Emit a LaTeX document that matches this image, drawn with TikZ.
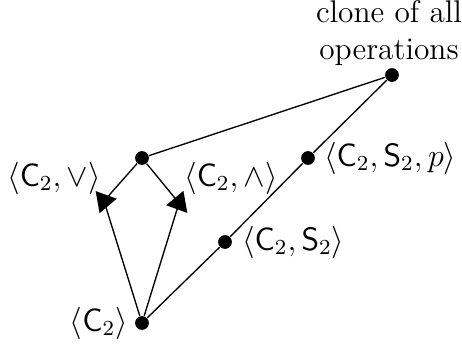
\documentclass[tikz,border=0pt]{standalone}
\usepackage{amsmath,amssymb}
\usetikzlibrary{shapes.geometric,positioning}
\begin{document}
\begin{tikzpicture}[
    x=0.0131cm, y=-0.0131cm,
    dot/.style={circle, fill, inner sep=0pt, minimum size=0.18cm},
    tri/.style={regular polygon, regular polygon sides=3, fill, inner sep=0pt, minimum size=0.34cm, rotate=#1},
    lbl/.style={inner sep=1pt, font=\fontsize{11.7}{13.8}\selectfont},
    edge/.style={line width=0.5pt},
]
\useasboundingbox (0,0) rectangle (462,347);

% --- lattice points --------------------------------------------------
\node[dot] (all)   at (392, 75)  {};
\node[dot] (join)  at (142,158)  {};
\node[dot] (c2s2p) at (308,158)  {};
\node[dot] (c2s2)  at (225,242)  {};
\node[dot] (c2)    at (142,323)  {};
\node[tri=-80] (c2or)  at (104,201) {};
\node[tri=100] (c2and) at (179,203) {};

% --- labels ----------------------------------------------------------
\node[lbl, align=center] (allL) at (389, 33) {clone of all\\operations};
\node[lbl, anchor=west] (c2s2pL) at (321,158) {$\langle \mathsf{C}_2, \mathsf{S}_2, p\rangle$};
\node[lbl, anchor=west] (c2s2L)  at (239,242) {$\langle \mathsf{C}_2, \mathsf{S}_2\rangle$};
\node[lbl, anchor=east] (c2L)    at (131,323) {$\langle \mathsf{C}_2\rangle$};
\node[lbl] (c2orL)  at (54,178)  {$\langle \mathsf{C}_2, \vee\rangle$};
\node[lbl] (c2andL) at (231,178) {$\langle \mathsf{C}_2, \wedge\rangle$};

% --- edges -----------------------------------------------------------
\draw[edge] (all) -- (join);
\draw[edge] (all) -- (c2s2p) -- (c2s2) -- (c2);
\draw[edge] (join) -- (c2or.center);
\draw[edge] (join) -- (c2and.center);
\draw[edge] (c2) -- (c2or.center);
\draw[edge] (c2) -- (c2and.center);
\end{tikzpicture}
\end{document}
